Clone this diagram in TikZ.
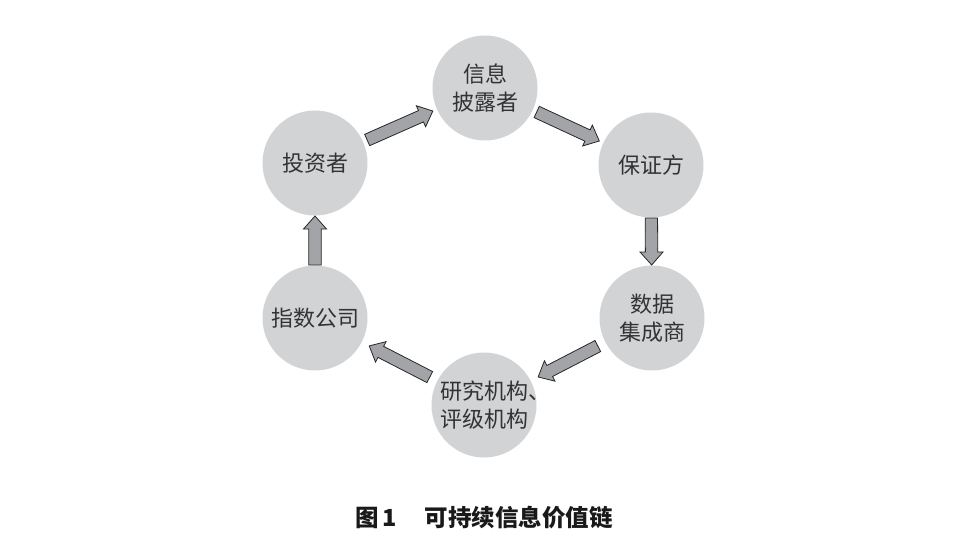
\documentclass[tikz,border=0pt]{standalone}
\usepackage{fontspec}
\usepackage{xcolor}
\newfontfamily\cjk{Noto Sans CJK SC}
\usetikzlibrary{calc}
\definecolor{discgray}{HTML}{D1D3D4}
\definecolor{arrowgray}{HTML}{A2A4A7}
\tikzset{>=latex,
    party/.style={circle, fill=discgray, minimum size=105pt, inner sep=0pt,
      align=center, text=black!80, font=\cjk\fontsize{22}{27.5}\selectfont},
    flow/.style={draw=black!85, fill=arrowgray, line width=0.8pt}}
% block arrow from node #2 to node #3, #1 = gap from the centres
\newcommand{\flowarrow}[3][57pt]{%
  \path ($(#2)!#1!(#3)$) coordinate (tail)
        ($(#3)!#1!(#2)$) coordinate (tip)
        ($(tip)!13pt!(tail)$) coordinate (neck);
  \draw[flow] ($(tail)!6.2pt!90:(tip)$) -- ($(neck)!6.2pt!-90:(tail)$)
    -- ($(neck)!11.5pt!-90:(tail)$) -- (tip) -- ($(neck)!11.5pt!90:(tail)$)
    -- ($(neck)!6.2pt!90:(tail)$) -- ($(tail)!6.2pt!-90:(tip)$) -- cycle;}

\begin{document}
\begin{tikzpicture}[x=1pt, y=-1pt,
      caption/.style={text=black!90, font=\cjk\bfseries\fontsize{23.5}{23.5}\selectfont}]
  \useasboundingbox (0,0) rectangle (966,556);
  \node[party] (info) at (485, 88) {信息\\披露者};
  \node[party] (assure) at (651, 165) {保证方};
  \node[party] (data) at (652, 318) {数据\\集成商};
  \node[party] (research) at (484, 405) {研究机构\rlap{、}\\评级机构};
  \node[party] (index) at (315, 318) {指数公司};
  \node[party] (investor) at (315, 163) {投资者};
  % flow round the chain
  \flowarrow{investor}{info}
  \flowarrow{info}{assure}
  \flowarrow[53pt]{assure}{data}
  \flowarrow[61pt]{data}{research}
  \flowarrow[61pt]{research}{index}
  \flowarrow[53pt]{index}{investor}
  % caption
  \node[caption] (title) at (484, 518) {图\hspace{4pt}1\hspace{28pt}可持续信息价值链};
\end{tikzpicture}
\end{document}
